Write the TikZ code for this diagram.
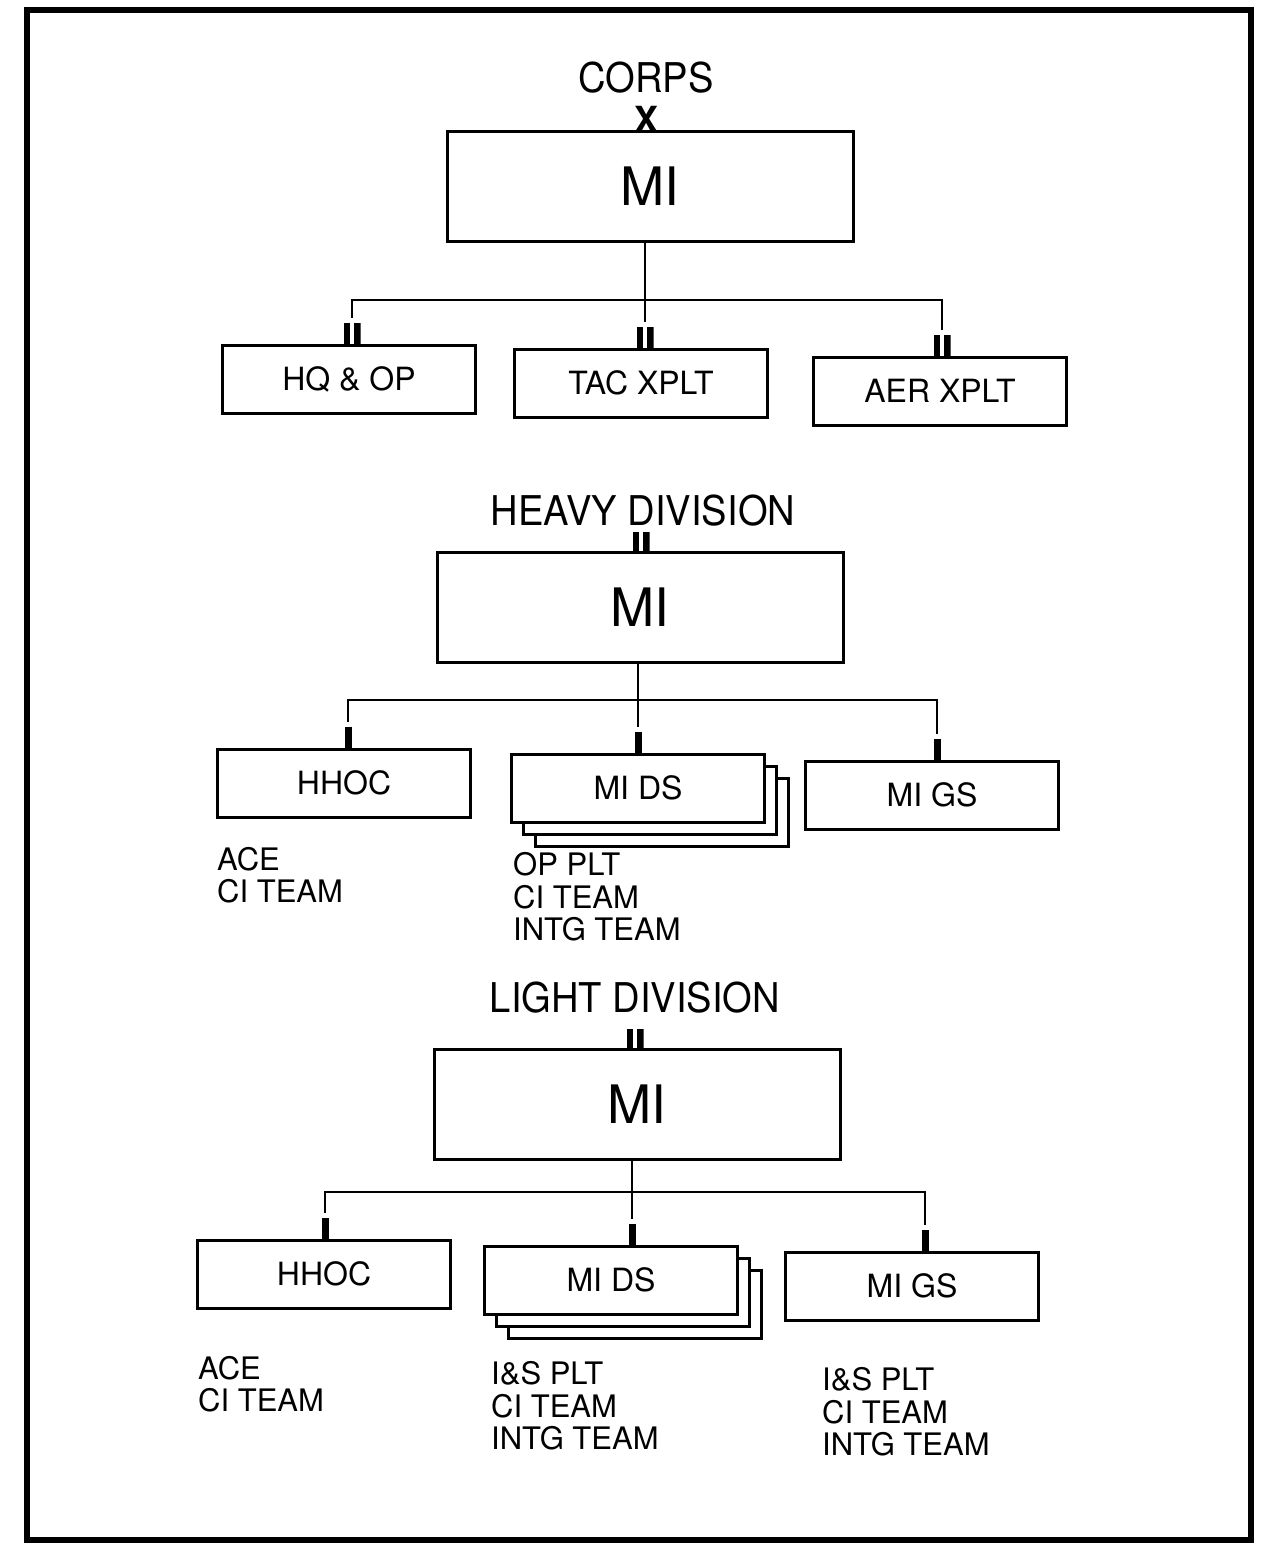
\documentclass[tikz,border=0pt]{standalone}
\usepackage{fontspec}
\setmainfont{TeX Gyre Heros}
\newfontfamily\narrowfont[FakeStretch=0.93]{TeX Gyre Heros}
\usepackage{tikz}
\usetikzlibrary{positioning}
\usetikzlibrary{shadows}

\begin{document}
\begin{tikzpicture}
  [
    x=1pt, y=-1pt,
    title/.style={inner sep=0pt, font=\narrowfont\fontsize{41}{41}\selectfont},
    parent/.style={draw, line width=3pt, fill=white, minimum width=406pt,
      minimum height=110pt, font=\fontsize{53}{53}\selectfont},
    unit/.style={draw, line width=3pt, fill=white, minimum width=253pt,
      minimum height=68pt, font=\fontsize{32}{32}\selectfont},
    stack/.style={unit, double copy shadow={shadow xshift=12pt, shadow yshift=-12pt}},
    list/.style={anchor=west, align=left, inner sep=0pt,
      font=\fontsize{31}{32.5}\selectfont},
    link/.style={line width=2.8pt},
    echX/.style={anchor=south, inner sep=0pt, outer sep=0pt, yshift=-3pt,
      font=\fontsize{36}{36}\selectfont\bfseries},
    echI/.style={fill, inner sep=0pt, outer sep=0pt, minimum width=7pt,
      minimum height=21pt, anchor=south},
    echII/.style={inner sep=0pt, outer sep=0pt, minimum width=17pt,
      minimum height=21pt, anchor=south,
      path picture={
        \fill (path picture bounding box.south west) rectangle
          ([xshift=6.5pt]path picture bounding box.north west);
        \fill ([xshift=-6.5pt]path picture bounding box.south east) rectangle
          (path picture bounding box.north east);
      }}
  ]
    \useasboundingbox (0,0) rectangle (1266,1550);
    \draw [line width=6pt] (27,10) rectangle (1251,1540);

    % corps
    \node [title] (tcorps) at (646,78) {CORPS};
    \node [parent] (mi1) at (650,186) {MI};
    \node [echX] (e1) at ([xshift=-4pt]mi1.north) {X};
    \node [unit] (hq) at (349,379) {HQ \& OP};
    \node [unit] (tac) at (641,383) {TAC XPLT};
    \node [unit] (aer) at (940,391) {AER XPLT};
    \node [echII] (e1a) at ([xshift=3pt]hq.north) {};
    \node [echII] (e1b) at ([xshift=4pt]tac.north) {};
    \node [echII] (e1c) at ([xshift=2pt]aer.north) {};
    \coordinate (br1) at (645,300);
    \draw [link] ([yshift=5pt]e1a.north) |- (br1) -| ([yshift=5pt]e1c.north);
    \draw [link] ([yshift=5pt]e1b.north) -- (e1b |- mi1.south);

    % heavy division
    \node [title] (theavy) at (643,511) {HEAVY DIVISION};
    \node [parent] (mi2) at (640,607) {MI};
    \node [echII] (e2) at ([xshift=1pt,yshift=-2pt]mi2.north) {};
    \node [unit] (hhoc2) at (344,783) {HHOC};
    \node [stack] (ds2) at (638,788) {MI DS};
    \node [unit] (gs2) at (932,795) {MI GS};
    \node [echI] (e2a) at ([xshift=4pt]hhoc2.north) {};
    \node [echI] (e2b) at (ds2.north) {};
    \node [echI] (e2c) at ([xshift=5pt]gs2.north) {};
    \coordinate (br2) at (639,700);
    \draw [link] ([yshift=5pt]e2a.north) |- (br2) -| ([yshift=5pt]e2c.north);
    \draw [link] ([yshift=5pt]e2b.north) -- (e2b |- mi2.south);
    \node [list] (l2a) at (217,875) {ACE\\CI TEAM};
    \node [list] (l2b) at (513,897) {OP PLT\\CI TEAM\\INTG TEAM};

    % light division
    \node [title] (tlight) at (635,998) {LIGHT DIVISION};
    \node [parent] (mi3) at (637,1104) {MI};
    \node [echII] (e3) at ([xshift=-2pt,yshift=-2pt]mi3.north) {};
    \node [unit] (hhoc3) at (324,1274) {HHOC};
    \node [stack] (ds3) at (611,1280) {MI DS};
    \node [unit] (gs3) at (912,1286) {MI GS};
    \node [echI] (e3a) at ([xshift=1pt]hhoc3.north) {};
    \node [echI] (e3b) at ([xshift=21pt]ds3.north) {};
    \node [echI] (e3c) at ([xshift=13pt]gs3.north) {};
    \coordinate (br3) at (632,1192);
    \draw [link] ([yshift=5pt]e3a.north) |- (br3) -| ([yshift=5pt]e3c.north);
    \draw [link] ([yshift=5pt]e3b.north) -- (e3b |- mi3.south);
    \node [list] (l3a) at (198,1384) {ACE\\CI TEAM};
    \node [list] (l3b) at (491,1406) {I\&S PLT\\CI TEAM\\INTG TEAM};
    \node [list] (l3c) at (822,1412) {I\&S PLT\\CI TEAM\\INTG TEAM};
  \end{tikzpicture}
\end{document}
